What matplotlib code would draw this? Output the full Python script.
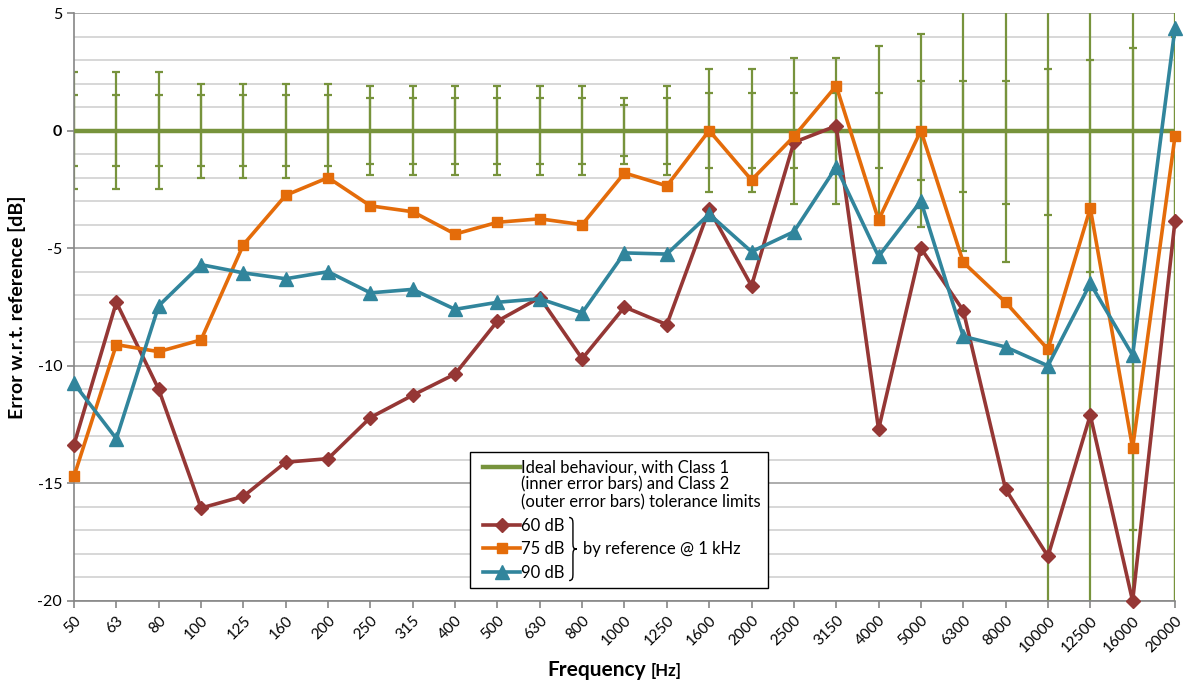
import numpy as np
import matplotlib
matplotlib.use('Agg')
import matplotlib.pyplot as plt
from matplotlib.lines import Line2D
from matplotlib.path import Path
from matplotlib.patches import PathPatch
from matplotlib.legend_handler import HandlerLine2D

plt.rcParams['font.family'] = ['Lato', 'DejaVu Sans']

# third-octave bands
freqs = ['50', '63', '80', '100', '125', '160', '200', '250', '315', '400', '500', '630', '800',
         '1000', '1250', '1600', '2000', '2500', '3150', '4000', '5000', '6300', '8000',
         '10000', '12500', '16000', '20000']

# measured error w.r.t. reference (dB), referenced @ 1 kHz
err_60 = [-13.35, -7.3, -11.0, -16.05, -15.55, -14.1, -13.95, -12.2, -11.25, -10.35, -8.1, -7.1, -9.7,
          -7.5, -8.25, -3.35, -6.6, -0.5, 0.2, -12.7, -5.0, -7.65, -15.25, -18.1, -12.1, -20.0, -3.85]
err_75 = [-14.7, -9.1, -9.4, -8.9, -4.85, -2.75, -2.0, -3.2, -3.45, -4.4, -3.9, -3.75, -4.0,
          -1.8, -2.35, 0.0, -2.1, -0.25, 1.9, -3.8, 0.0, -5.6, -7.3, -9.3, -3.3, -13.5, -0.25]
err_90 = [-10.75, -13.1, -7.45, -5.7, -6.05, -6.3, -6.0, -6.9, -6.75, -7.6, -7.3, -7.15, -7.75,
          -5.2, -5.25, -3.55, -5.15, -4.3, -1.55, -5.35, -3.0, -8.75, -9.2, -10.0, -6.5, -9.55, 4.35]

ideal = [0.0] * len(freqs)

# tolerance limits (dB); NO_LIMIT = no lower limit
NO_LIMIT = 40.0
class1_upper = [1.5, 1.5, 1.5, 1.5, 1.5, 1.5, 1.5, 1.4, 1.4, 1.4, 1.4, 1.4, 1.4,
                1.1, 1.4, 1.6, 1.6, 1.6, 1.6, 1.6, 2.1, 2.1, 2.1, 2.6, 3.0, 3.5, 4.0]
class1_lower = [1.5, 1.5, 1.5, 1.5, 1.5, 1.5, 1.5, 1.4, 1.4, 1.4, 1.4, 1.4, 1.4,
                1.1, 1.4, 1.6, 1.6, 1.6, 1.6, 1.6, 2.1, 2.6, 3.1, 3.6, 6.0, 17.0, NO_LIMIT]
class2_upper = [2.5, 2.5, 2.5, 2.0, 2.0, 2.0, 2.0, 1.9, 1.9, 1.9, 1.9, 1.9, 1.9,
                1.4, 1.9, 2.6, 2.6, 3.1, 3.1, 3.6, 4.1, 5.1, 5.6, 5.6, 6.0, 6.0, 6.0]
class2_lower = [2.5, 2.5, 2.5, 2.0, 2.0, 2.0, 2.0, 1.9, 1.9, 1.9, 1.9, 1.9, 1.9,
                1.4, 1.9, 2.6, 2.6, 3.1, 3.1, 3.6, 4.1, 5.1, 5.6, NO_LIMIT, NO_LIMIT, NO_LIMIT, NO_LIMIT]

green = '#77933c'
red = '#953735'
orange = '#e46c0a'
teal = '#31859c'

fig = plt.figure(figsize=(11.86, 6.88), dpi=100)
ax = fig.add_axes([0.0624, 0.1265, 0.9283, 0.8546])

x = np.arange(len(freqs))

# tolerance error bars
ax.errorbar(x, ideal, yerr=[class2_lower, class2_upper], fmt='none', ecolor=green,
            elinewidth=1.6, capsize=2.6, capthick=1.6, zorder=2)
ax.errorbar(x, ideal, yerr=[class1_lower, class1_upper], fmt='none', ecolor=green,
            elinewidth=1.6, capsize=2.6, capthick=1.6, zorder=2)
ax.plot(x, ideal, color=green, lw=3.2, zorder=3, solid_capstyle='butt')

ax.plot(x, err_60, color=red, lw=2.6, marker='D', ms=7.5, zorder=4, clip_on=False)
ax.plot(x, err_75, color=orange, lw=2.6, marker='s', ms=7.5, zorder=5, clip_on=False)
ax.plot(x, err_90, color=teal, lw=2.6, marker='^', ms=9.5, zorder=6, clip_on=False)

ax.set_xlim(0, len(freqs) - 1)
ax.set_ylim(-20, 5)
ax.set_xticks(x)
ax.set_xticklabels(freqs, rotation=45, ha='right', rotation_mode='anchor', fontsize=11)
ax.set_yticks([-20, -15, -10, -5, 0, 5])
ax.set_yticklabels(['-20', '-15', '-10', '-5', '0', '5'], fontsize=11.5)
ax.get_yticklabels()[4].set_fontweight('bold')
ax.set_yticks(np.arange(-20, 6, 1), minor=True)

ax.grid(True, which='minor', axis='y', color='#d4d4d4', lw=1.3, zorder=0)
ax.grid(True, which='major', axis='y', color='#a6a6a6', lw=1.3, zorder=0)
ax.set_axisbelow(True)
ax.tick_params(axis='y', which='minor', length=0)
ax.tick_params(axis='both', which='major', color='#868686', length=5, width=1.2)
ax.tick_params(axis='x', pad=4)
for side in ['top', 'right']:
    ax.spines[side].set_visible(False)
for side in ['left', 'bottom']:
    ax.spines[side].set_color('#868686')
    ax.spines[side].set_linewidth(1.2)

ax.set_ylabel('Error w.r.t. reference [dB]', fontsize=14, fontweight='bold', labelpad=8)
xl = ax.set_xlabel('Frequency', fontsize=15, fontweight='bold')
ax.xaxis.set_label_coords(0.475, -0.10)
ax.annotate('[Hz]', xy=(1, 0), xycoords=xl, xytext=(3, 0.5), textcoords='offset points',
            fontsize=12, fontweight='bold', ha='left', va='bottom')


class HandlerShifted(HandlerLine2D):
    # trim the line on the left, and optionally lift it to the first row of a multi-line label
    def __init__(self, lift=0.0, trim=0.3, **kw):
        super().__init__(**kw)
        self.lift = lift
        self.trim = trim

    def create_artists(self, legend, orig_handle, xdescent, ydescent, width, height, fontsize, trans):
        artists = super().create_artists(legend, orig_handle, xdescent, ydescent, width, height,
                                         fontsize, trans)
        for a in artists:
            xs = np.asarray(a.get_xdata(), dtype=float)
            if len(xs) > 1:
                x0 = xs.min() + self.trim * fontsize
                a.set_xdata(np.linspace(x0, xs.max(), len(xs)))
            a.set_ydata(np.asarray(a.get_ydata(), dtype=float) + self.lift * fontsize)
        return artists


h_ideal = Line2D([], [], color=green, lw=3.2)
h60 = Line2D([], [], color=red, lw=2.6, marker='D', ms=7.5)
h75 = Line2D([], [], color=orange, lw=2.6, marker='s', ms=7.5)
h90 = Line2D([], [], color=teal, lw=2.6, marker='^', ms=9.5)
leg = ax.legend([h_ideal, h60, h75, h90],
                ['Ideal behaviour, with Class 1\n(inner error bars) and Class 2\n(outer error bars) tolerance limits',
                 '60 dB', '75 dB', '90 dB'],
                loc='lower left', bbox_to_anchor=(0.36, 0.022), fontsize=12, frameon=True,
                fancybox=False, edgecolor='black', framealpha=1, handlelength=2.55,
                handletextpad=0.05, labelspacing=0.45, borderpad=0.45, borderaxespad=0,
                handler_map={h_ideal: HandlerShifted(lift=1.1), h60: HandlerShifted(),
                             h75: HandlerShifted(), h90: HandlerShifted()})
leg.get_frame().set_linewidth(1.0)
leg.set_zorder(10)
for t in leg.get_texts():
    t.set_linespacing(1.1)

# brace grouping the three levels
fig.canvas.draw()
inv = ax.transAxes.inverted()
texts = leg.get_texts()
b60 = inv.transform(texts[1].get_window_extent().get_points())
b90 = inv.transform(texts[3].get_window_extent().get_points())
bx = b60[1][0] + 0.004
yt = b60[1][1]
yb = b90[0][1]
H = yt - yb
w = 0.007
xm = bx + w / 2
ym = (yt + yb) / 2
verts = [(bx, yt), (xm, yt), (xm, yt - 0.05 * H), (xm, yt - 0.12 * H),
         (xm, ym + 0.12 * H),
         (xm, ym + 0.03 * H), (xm, ym), (bx + w, ym),
         (xm, ym), (xm, ym - 0.03 * H), (xm, ym - 0.12 * H),
         (xm, yb + 0.12 * H),
         (xm, yb + 0.05 * H), (xm, yb), (bx, yb)]
codes = [Path.MOVETO, Path.CURVE4, Path.CURVE4, Path.CURVE4,
         Path.LINETO,
         Path.CURVE4, Path.CURVE4, Path.CURVE4,
         Path.CURVE4, Path.CURVE4, Path.CURVE4,
         Path.LINETO,
         Path.CURVE4, Path.CURVE4, Path.CURVE4]
ax.add_patch(PathPatch(Path(verts, codes), fill=False, lw=1.0, edgecolor='black',
                       transform=ax.transAxes, zorder=11, clip_on=False))
ax.text(bx + w + 0.006, ym, 'by reference @ 1 kHz', transform=ax.transAxes, fontsize=12,
        va='center', ha='left', zorder=11)

fig.savefig('out.png', dpi=100)
